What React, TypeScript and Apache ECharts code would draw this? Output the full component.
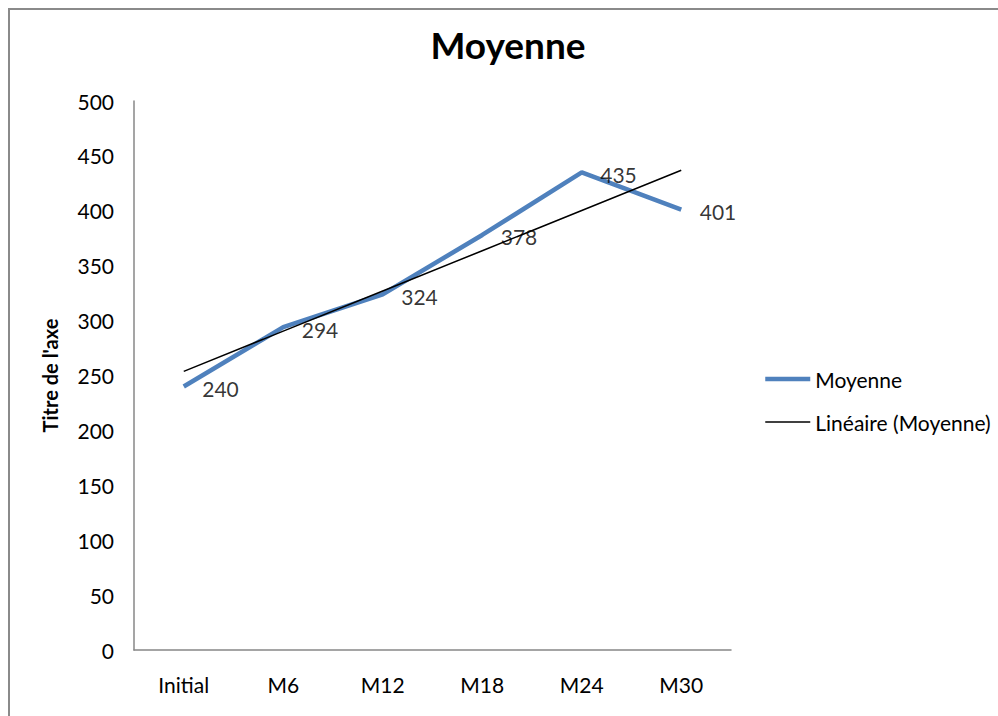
import React, { useEffect, useRef } from "react";
import * as echarts from "echarts";

// Periods and mean values
const categories = ["Initial", "M6", "M12", "M18", "M24", "M30"];
const moyenne = [240, 294, 324, 378, 435, 401];
const yTicks = { min: 0, max: 500, interval: 50 };

// Least-squares linear trend over the category index (1..n)
function linearTrend(values: number[]): number[] {
  const n = values.length;
  const xs = values.map((_, i) => i + 1);
  const mx = xs.reduce((a, b) => a + b, 0) / n;
  const my = values.reduce((a, b) => a + b, 0) / n;
  let sxy = 0;
  let sxx = 0;
  xs.forEach((x, i) => {
    sxy += (x - mx) * (values[i] - my);
    sxx += (x - mx) * (x - mx);
  });
  const slope = sxy / sxx;
  return xs.map((x) => +(my + slope * (x - mx)).toFixed(2));
}

const FONT = "Lato, 'Open Sans', sans-serif";
const FS = 21;
const BLUE = "#4F81BD";

export default function App() {
  const ref = useRef<HTMLDivElement>(null);

  useEffect(() => {
    if (!ref.current) return;
    const chart = echarts.init(ref.current, null, { renderer: "svg" });
    chart.setOption({
      animation: false,
      backgroundColor: "#ffffff",
      textStyle: { fontFamily: FONT, color: "#000" },
      title: {
        text: "Moyenne",
        left: 498,
        top: 16,
        padding: 0,
        textAlign: "center",
        textStyle: { fontFamily: FONT, fontSize: 37, fontWeight: "bold", color: "#000" },
      },
      legend: {
        orient: "vertical",
        left: 753,
        top: 358,
        padding: 0,
        itemWidth: 45,
        itemHeight: 22,
        itemGap: 21,
        itemStyle: { opacity: 0 },
        textStyle: { fontFamily: FONT, fontSize: FS, color: "#000", lineHeight: 22 },
        data: [
          { name: "Moyenne", lineStyle: { color: BLUE, width: 4.5 } },
          { name: "Linéaire (Moyenne)", lineStyle: { color: "#000", width: 1.5 } },
        ],
      },
      grid: { left: 124, top: 91, width: 597, height: 549, containLabel: false },
      xAxis: {
        type: "category",
        data: categories,
        boundaryGap: true,
        axisLine: { lineStyle: { color: "#878787", width: 1.5 } },
        axisTick: { show: false },
        axisLabel: { fontFamily: FONT, fontSize: FS, color: "#000", margin: 24 },
        splitLine: { show: false },
      },
      yAxis: {
        type: "value",
        min: yTicks.min,
        max: yTicks.max,
        interval: yTicks.interval,
        name: "Titre de l'axe",
        nameLocation: "middle",
        nameRotate: 90,
        nameGap: 74,
        nameTextStyle: { fontFamily: FONT, fontSize: 20, fontWeight: "bold", color: "#000" },
        axisLine: { show: true, lineStyle: { color: "#878787", width: 1.5 } },
        axisTick: { show: false },
        axisLabel: { fontFamily: FONT, fontSize: FS, color: "#000", margin: 20 },
        splitLine: { show: false },
      },
      series: [
        {
          name: "Moyenne",
          type: "line",
          data: moyenne,
          symbol: "none",
          lineStyle: { color: BLUE, width: 4.5 },
          itemStyle: { color: BLUE },
          z: 3,
        },
        {
          name: "Linéaire (Moyenne)",
          type: "line",
          data: linearTrend(moyenne),
          symbol: "none",
          lineStyle: { color: "#000", width: 1.5 },
          itemStyle: { color: "#000" },
          z: 4,
        },
        {
          // value labels for the mean line
          name: "Moyenne (valeurs)",
          type: "scatter",
          data: moyenne,
          symbolSize: 1,
          itemStyle: { color: "rgba(0,0,0,0)" },
          label: {
            show: true,
            position: "right",
            distance: 18,
            offset: [0, 2],
            fontFamily: FONT,
            fontSize: FS,
            color: "#000",
          },
          silent: true,
          z: 5,
        },
      ],
    });
    return () => chart.dispose();
  }, []);

  return (
    <div
      style={{
        position: "fixed",
        left: 8,
        top: 8,
        right: 0,
        bottom: 0,
        borderTop: "2px solid #8a8a8a",
        borderLeft: "2px solid #8a8a8a",
        background: "#fff",
      }}
    >
      <div ref={ref} style={{ width: 988, height: 706 }} />
    </div>
  );
}
